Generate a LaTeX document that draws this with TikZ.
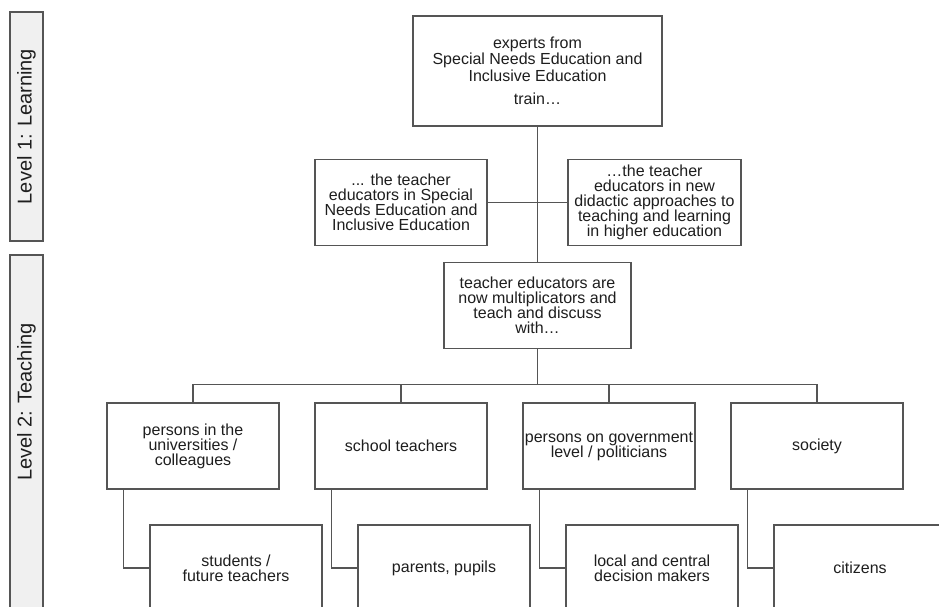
\documentclass[tikz,border=0pt]{standalone}
\usepackage{fontspec}
\setmainfont{Liberation Sans}
\definecolor{linec}{HTML}{555555}
\definecolor{txtc}{HTML}{1E1E1E}
\definecolor{lvlfill}{HTML}{F0F0F0}
\begin{document}
\begin{tikzpicture}[x=1pt,y=-1pt,
  box/.style={draw=linec, line width=1.4pt, fill=white, text=txtc, align=center,
    inner sep=1pt, minimum width=172pt, minimum height=86pt,
    font=\fontsize{16}{15}\selectfont},
  conn/.style={draw=linec, line width=1.4pt},
  lvlbox/.style={draw=linec, line width=1.4pt, fill=lvlfill},
  lvltext/.style={rotate=90, text=txtc, inner sep=0pt, font=\fontsize{20}{20}\selectfont}]
\useasboundingbox (0,0) rectangle (939,607);
\clip (0,0) rectangle (939,607);

% level labels
\node[lvlbox, rotate=90, minimum width=229pt, minimum height=33pt, inner sep=0pt,
  text=txtc, font=\fontsize{20}{20}\selectfont] (lvl1) at (26.5,126.5) {Level 1: Learning};
\path[lvlbox] (10,255) rectangle (43,625);
\node[lvltext] (lvl2) at (26.5,402) {Level 2: Teaching};

% level 1
\node[box, minimum width=249pt, minimum height=110pt, font=\fontsize{16}{16.5}\selectfont]
  (top) at (537.5,71) {experts from\\Special Needs Education and\\Inclusive Education\\[7pt]train…};
\node[box] (tl) at (401,202.5) {... the teacher\\educators in Special\\Needs Education and\\Inclusive Education};
\node[box, minimum width=173pt] (tr) at (654.5,202.5) {…the teacher\\educators in new\\didactic approaches to\\teaching and learning\\in higher education};
\node[box, minimum width=187pt] (mid) at (537.5,305.5) {teacher educators are\\now multiplicators and\\teach and discuss\\with…};

\coordinate (bus) at (537.5,385);
\draw[conn] (top.south) -- (mid.north);
\draw[conn] (tl.east) -- (tr.west);
\draw[conn] (mid.south) -- (bus);

% level 2 top row
\node[box] (a1) at (193,446) {persons in the\\universities /\\colleagues};
\node[box] (a2) at (401,446) {school teachers};
\node[box] (a3) at (609,446) {persons on government\\level / politicians};
\node[box] (a4) at (817,446) {society};

\draw[conn] (a1.north) -- ++(0,-18) -| (a4.north);
\draw[conn] (a2.north) -- ++(0,-18);
\draw[conn] (a3.north) -- ++(0,-18);

% level 2 bottom row
\node[box] (b1) at (236,568) {students /\\future teachers};
\node[box] (b2) at (444,568) {parents, pupils};
\node[box] (b3) at (652,568) {local and central\\decision makers};
\node[box] (b4) at (860,568) {citizens};

\draw[conn] ([xshift=17pt]a1.south west) |- (b1.west);
\draw[conn] ([xshift=17pt]a2.south west) |- (b2.west);
\draw[conn] ([xshift=17pt]a3.south west) |- (b3.west);
\draw[conn] ([xshift=17pt]a4.south west) |- (b4.west);
\end{tikzpicture}
\end{document}
